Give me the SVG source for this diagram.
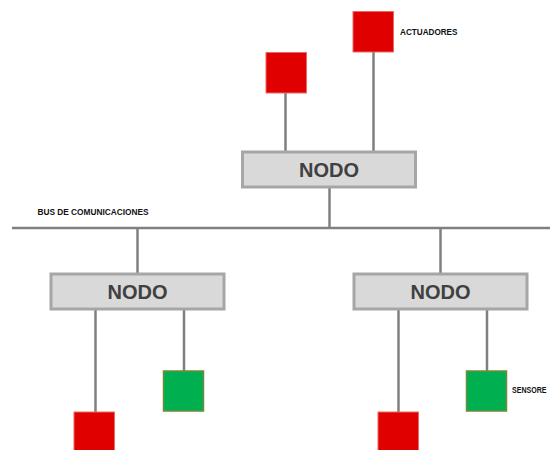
<svg xmlns="http://www.w3.org/2000/svg" width="550" height="450" viewBox="0 0 550 450">
<style>
.wire{stroke:#808080;stroke-width:2.5;fill:none}
.node rect{fill:#d9d9d9;stroke:#a6a6a6;stroke-width:3}
.node text{font-family:"Liberation Sans",Arial,sans-serif;font-weight:bold;font-size:20px;fill:#404040;text-anchor:middle}
.act{fill:#e00000;stroke:#e86a6a;stroke-width:1}
.sen{fill:#00b050;stroke:#6e8c3a;stroke-width:1.5}
.lbl{font-family:"Liberation Sans",Arial,sans-serif;font-weight:bold;font-size:8.6px;fill:#111111}
</style>
<rect width="550" height="450" fill="#ffffff"/>
<g id="connectors">
<line class="wire" x1="12" y1="228" x2="550" y2="228"/>
<line class="wire" x1="329.5" y1="188" x2="329.5" y2="228"/>
<line class="wire" x1="285.5" y1="93" x2="285.5" y2="151"/>
<line class="wire" x1="373.5" y1="52" x2="373.5" y2="151"/>
<line class="wire" x1="137.5" y1="228" x2="137.5" y2="273"/>
<line class="wire" x1="440.5" y1="228" x2="440.5" y2="273"/>
<line class="wire" x1="95.5" y1="310" x2="95.5" y2="412"/>
<line class="wire" x1="184" y1="310" x2="184" y2="371"/>
<line class="wire" x1="398.5" y1="310" x2="398.5" y2="412"/>
<line class="wire" x1="487" y1="310" x2="487" y2="371"/>
</g>
<text class="lbl" x="37.5" y="215.3" textLength="111" lengthAdjust="spacingAndGlyphs">BUS DE COMUNICACIONES</text>
<g id="node-top" class="node"><rect x="242.5" y="152" width="173" height="35"/><text x="329" y="176.5">NODO</text></g>
<g id="node-left" class="node"><rect x="51" y="274" width="173" height="35"/><text x="137.5" y="298.5">NODO</text></g>
<g id="node-right" class="node"><rect x="354" y="274" width="173" height="35"/><text x="440.5" y="298.5">NODO</text></g>
<g id="act-top-left"><rect class="act" x="266" y="52.5" width="40.5" height="40.5"/></g>
<g id="act-top-right"><rect class="act" x="353" y="11.5" width="40.5" height="40.5"/><text class="lbl" x="400" y="35.3" textLength="57.5" lengthAdjust="spacingAndGlyphs">ACTUADORES</text></g>
<g id="act-left"><rect class="act" x="74" y="412" width="40.5" height="40.5"/></g>
<g id="act-right"><rect class="act" x="378" y="412" width="40.5" height="40.5"/></g>
<g id="sen-left"><rect class="sen" x="163.5" y="371" width="40" height="40"/></g>
<g id="sen-right"><rect class="sen" x="466.5" y="371" width="40" height="40"/><text class="lbl" x="512" y="392.5" textLength="34.5" lengthAdjust="spacingAndGlyphs">SENSORE</text></g>
</svg>
